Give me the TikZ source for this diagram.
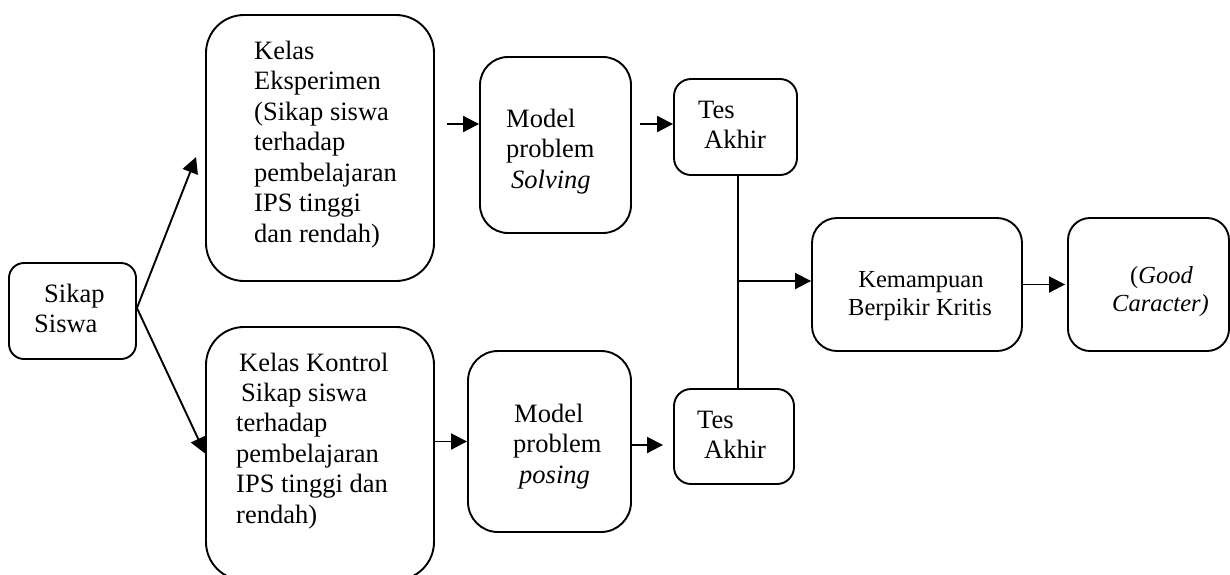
\documentclass[tikz,border=0pt]{standalone}
\usepackage{fontspec}
\setmainfont{Liberation Serif}
\usetikzlibrary{arrows.meta,calc}
\tikzset{
  box/.style={draw, line width=1.9pt, inner sep=0pt, rectangle},
  txt/.style={anchor=base west, inner sep=0pt, font=\fontsize{26.5}{30}\selectfont},
  txtc/.style={anchor=base, inner sep=0pt, font=\fontsize{24.5}{28}\selectfont},
  txts/.style={anchor=base west, inner sep=0pt, font=\fontsize{24.5}{28}\selectfont},
  conn/.style={line width=1.9pt},
  arr/.style={conn, -{Triangle[length=16pt,width=16pt]}}
}
\begin{document}
\begin{tikzpicture}[x=1pt,y=-1pt]
\useasboundingbox (0,0) rectangle (1230,574);
\clip (0,0) rectangle (1230,574);
\fill[white] (0,0) rectangle (1230,574);
% boxes
\node[box, rounded corners=15pt, minimum width=127pt, minimum height=96pt] (sikap) at (72.5,311) {};
\node[box, rounded corners=38pt, minimum width=228pt, minimum height=266pt] (eks) at (320,148) {};
\node[box, rounded corners=38pt, minimum width=228pt, minimum height=253pt] (kon) at (320,453.5) {};
\node[box, rounded corners=28pt, minimum width=151pt, minimum height=176pt] (msol) at (555.5,145) {};
\node[box, rounded corners=17pt, minimum width=123pt, minimum height=96pt] (tes1) at (735.5,127) {};
\node[box, rounded corners=30pt, minimum width=163pt, minimum height=181pt] (mpos) at (549.5,441.5) {};
\node[box, rounded corners=17pt, minimum width=120pt, minimum height=95pt] (tes2) at (734,436.5) {};
\node[box, rounded corners=25pt, minimum width=210pt, minimum height=133pt] (kem) at (917,284.5) {};
\node[box, rounded corners=22pt, minimum width=161pt, minimum height=133pt] (good) at (1148.5,284.5) {};
% texts
\node[txt] (t1) at (44,302) {Sikap};
\node[txt] (t2) at (34,332) {Siswa};
\node[txt] (e1) at (254,59) {Kelas};
\node[txt] (e2) at (254,89.5) {Eksperimen};
\node[txt] (e3) at (254,120) {(Sikap siswa};
\node[txt] (e4) at (254,150.5) {terhadap};
\node[txt] (e5) at (254,181) {pembelajaran};
\node[txt] (e6) at (254,211.5) {IPS tinggi};
\node[txt] (e7) at (254,242) {dan rendah)};
\node[txt] (k1) at (239,371) {Kelas Kontrol};
\node[txt] (k2) at (241,401) {Sikap siswa};
\node[txt] (k3) at (236,431.5) {terhadap};
\node[txt] (k4) at (236,462) {pembelajaran};
\node[txt] (k5) at (236,492.5) {IPS tinggi dan};
\node[txt] (k6) at (236,523) {rendah)};
\node[txt] (s1) at (506,127) {Model};
\node[txt] (s2) at (506,157.5) {problem};
\node[txt] (s3) at (511,188) {\itshape Solving};
\node[txt] (a1) at (698,118) {Tes};
\node[txt] (a2) at (704,148) {Akhir};
\node[txt] (p1) at (514,422) {Model};
\node[txt] (p2) at (513,452.5) {problem};
\node[txt] (p3) at (519,483) {\itshape posing};
\node[txt] (b1) at (697,428) {Tes};
\node[txt] (b2) at (704,458) {Akhir};
\node[txtc] (m1) at (921,287) {Kemampuan};
\node[txtc] (m2) at (920,315) {Berpikir Kritis};
\node[txts] (g1) at (1130,283) {(\textit{Good}};
\node[txts] (g2) at (1112,311) {\textit{Caracter)}};
% connectors
\draw[arr] ($(sikap.east)+(0,-3)$) -- ($(eks.west)+(-9,9)$);
\draw[arr] ($(sikap.east)+(0,-3)$) -- (kon.west);
\draw[arr] ($(eks.east)+(12,-24)$) -- ($(msol.west)+(0,-21)$);
\draw[arr] ($(msol.east)+(8,-21)$) -- ($(tes1.west)+(0,-3)$);
\draw[arr] (kon.east |- mpos.west) -- (mpos.west);
\draw[arr] ($(mpos.east)+(0,3.5)$) -- ($(tes2.west)+(-10,8.5)$);
\coordinate (j) at (738,281);
\draw[conn] (j |- tes1.south) -- (j |- tes2.north);
\draw[arr] (j) -- (j -| kem.west);
\draw[arr] (kem.east) -- ($(good.west)+(-2,0)$);
\end{tikzpicture}
\end{document}
